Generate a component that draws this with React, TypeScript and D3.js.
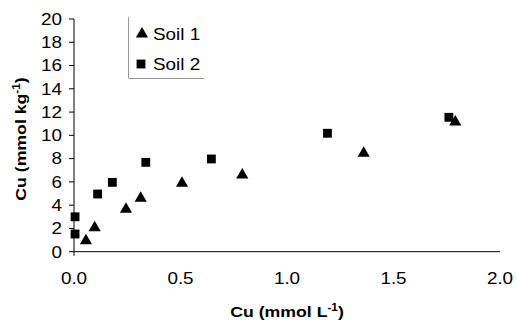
import React from "react";
import * as d3 from "d3";

// Soil 1 (triangles)
const soil1X = [0.056, 0.097, 0.244, 0.313, 0.507, 0.79, 1.36, 1.79];
const soil1Y = [0.95, 2.06, 3.64, 4.6, 5.88, 6.6, 8.46, 11.15];
// Soil 2 (squares)
const soil2X = [0.005, 0.005, 0.111, 0.18, 0.337, 0.645, 1.19, 1.76];
const soil2Y = [1.52, 3.0, 4.96, 5.96, 7.68, 7.97, 10.18, 11.55];

const xTicks = [0, 0.5, 1.0, 1.5, 2.0];
const yTicks = [0, 2, 4, 6, 8, 10, 12, 14, 16, 18, 20];

const W = 517;
const H = 324;
const font = "Arial, 'Liberation Sans', sans-serif";
const SX = 1.18; // reference text is a bit stretched horizontally

const x = d3.scaleLinear().domain([0, 2]).range([74, 500]);
const y = d3.scaleLinear().domain([0, 20]).range([251.7, 19]);

const tri = d3.symbol().type(d3.symbolTriangle).size(64)();
const sq = d3.symbol().type(d3.symbolSquare).size(78)();

function T({ x, y, anchor = "start", size = 16, bold = false, rot = 0, children }: any) {
  return (
    <text
      transform={`translate(${x},${y}) rotate(${rot}) scale(${SX},1)`}
      textAnchor={anchor}
      fontSize={size}
      fontWeight={bold ? "bold" : "normal"}
    >
      {children}
    </text>
  );
}

export default function App() {
  return (
    <svg width={W} height={H} style={{ position: "absolute", left: 0, top: 0 }} fontFamily={font}>
      <rect width={W} height={H} fill="#fff" />
      {/* axes */}
      <line x1={x(0)} x2={x(2)} y1={y(0)} y2={y(0)} stroke="#000" strokeWidth={1} />
      <line x1={x(0)} x2={x(0)} y1={y(20)} y2={y(0) + 4} stroke="#000" strokeWidth={1} />
      {yTicks.map((t) => (
        <g key={t}>
          <line x1={x(0) - 5} x2={x(0)} y1={y(t)} y2={y(t)} stroke="#000" />
          <T x={62} y={y(t) + 5.8} anchor="end">{t}</T>
        </g>
      ))}
      {xTicks.map((t) => (
        <T key={t} x={x(t)} y={284} anchor="middle">{d3.format(".1f")(t)}</T>
      ))}
      {/* axis titles */}
      <T x={287} y={317} anchor="middle" size={15} bold>
        Cu (mmol L<tspan dy={-6} fontSize={10}>-1</tspan><tspan dy={6}>)</tspan>
      </T>
      <T x={26} y={139} anchor="middle" size={15} bold rot={-90}>
        Cu (mmol kg<tspan dy={-6} fontSize={10}>-1</tspan><tspan dy={6}>)</tspan>
      </T>
      {/* points */}
      {soil2X.map((v, i) => (
        <path key={"s" + i} d={sq} transform={`translate(${x(v)},${y(soil2Y[i])})`} fill="#000" />
      ))}
      {soil1X.map((v, i) => (
        <path key={"t" + i} d={tri} transform={`translate(${x(v)},${y(soil1Y[i])})`} fill="#000" />
      ))}
      {/* legend */}
      <line x1={128.5} x2={128.5} y1={17} y2={78} stroke="#999" />
      <line x1={128.5} x2={204} y1={78.5} y2={78.5} stroke="#999" />
      <path d={tri} transform="translate(142,34)" fill="#000" />
      <T x={153} y={40}>Soil 1</T>
      <path d={sq} transform="translate(141,64)" fill="#000" />
      <T x={153} y={70}>Soil 2</T>
    </svg>
  );
}
